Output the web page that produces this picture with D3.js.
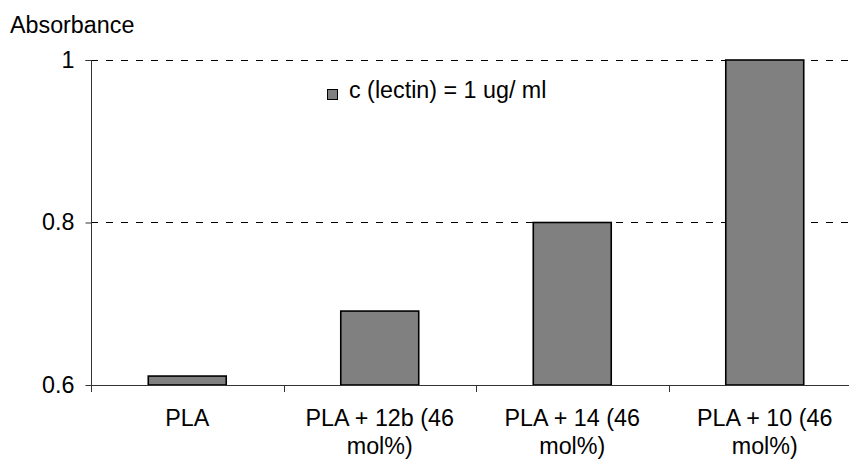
<!DOCTYPE html>
<html>
<head>
<meta charset="utf-8">
<script src="https://cdn.jsdelivr.net/npm/d3@7"></script>
<style>
  html, body { margin: 0; padding: 0; background: #fff; }
  svg { display: block; font-family: Arial, "Liberation Sans", sans-serif; }
</style>
</head>
<body>
<svg id="chart" width="849" height="460"></svg>
<script>
const categories = [["PLA"], ["PLA + 12b (46", "mol%)"], ["PLA + 14 (46", "mol%)"], ["PLA + 10 (46", "mol%)"]];
const categoryKeys = ["PLA", "PLA + 12b", "PLA + 14", "PLA + 10"];
const values = [0.611, 0.691, 0.800, 1.000];
const yTicks = [0.6, 0.8, 1.0];
const yTickLabels = ["0.6", "0.8", "1"];
const seriesName = "c (lectin) = 1 ug/ ml";
const yTitle = "Absorbance";

(function () {
const svg = d3.select("#chart");
const pLeft = 91, pRight = 861, pTop = 60, pBottom = 385;
const FS = 23.3;

const x = d3.scaleBand().domain(categoryKeys).range([pLeft, pRight])
  .paddingInner(0.595).paddingOuter(0.2975);
const y = d3.scaleLinear().domain([0.6, 1.0]).range([pBottom, pTop]);
const step = x.step();

// gridlines (except the baseline)
svg.append("g").selectAll("line").data(yTicks.filter(t => t > 0.6)).join("line")
  .attr("x1", pLeft).attr("x2", 849)
  .attr("y1", d => Math.round(y(d)) + 0.5).attr("y2", d => Math.round(y(d)) + 0.5)
  .attr("stroke", "#000").attr("stroke-width", 1).attr("stroke-dasharray", "7,8")
  .attr("stroke-dashoffset", -15);

// bars
svg.append("g").selectAll("rect").data(values).join("rect")
  .attr("x", (d, i) => x(categoryKeys[i]))
  .attr("width", x.bandwidth())
  .attr("y", d => y(d))
  .attr("height", d => y(0.6) - y(d))
  .attr("fill", "#808080").attr("stroke", "#000").attr("stroke-width", 1.6);

// x axis line
svg.append("line").attr("x1", pLeft).attr("x2", 849)
  .attr("y1", pBottom + 0.5).attr("y2", pBottom + 0.5)
  .attr("stroke", "#333").attr("stroke-width", 1);

// x boundary ticks
const bounds = d3.range(0, categoryKeys.length + 1).map(k => pLeft + k * step);
svg.append("g").selectAll("line").data(bounds).join("line")
  .attr("x1", d => Math.round(d) + 0.5).attr("x2", d => Math.round(d) + 0.5)
  .attr("y1", pBottom).attr("y2", pBottom + 7)
  .attr("stroke", "#333").attr("stroke-width", 1);

// y axis
const yAxis = d3.axisLeft(y).tickValues(yTicks).tickSize(6).tickPadding(11)
  .tickFormat((d, i) => yTickLabels[i]);
const gy = svg.append("g").attr("transform", `translate(${pLeft + 0.5},0)`).call(yAxis);
gy.select(".domain").attr("stroke", "#333").attr("d", `M-6,${pTop + 0.5}H0V${pBottom + 0.5}`);
gy.selectAll(".tick line").attr("stroke", "#333");
gy.selectAll(".tick text").attr("font-size", FS).attr("fill", "#000")
  .attr("font-family", "Arial, 'Liberation Sans', sans-serif");

// category labels
const lab = svg.append("g").selectAll("text").data(categories).join("text")
  .attr("x", (d, i) => x(categoryKeys[i]) + x.bandwidth() / 2)
  .attr("y", 426)
  .attr("text-anchor", "middle").attr("font-size", FS).attr("fill", "#000");
lab.selectAll("tspan").data(d => d).join("tspan")
  .attr("x", function() { return d3.select(this.parentNode).attr("x"); })
  .attr("dy", (d, i) => i === 0 ? 0 : 28)
  .text(d => d);

// y title
svg.append("text").attr("x", 10).attr("y", 33).attr("font-size", FS).attr("fill", "#000").text(yTitle);

// legend
svg.append("rect").attr("x", 327.5).attr("y", 89.5).attr("width", 10).attr("height", 10)
  .attr("fill", "#808080").attr("stroke", "#000").attr("stroke-width", 1);
svg.append("text").attr("x", 349).attr("y", 98).attr("font-size", FS).attr("fill", "#000").text(seriesName);
})();
</script>
</body>
</html>
